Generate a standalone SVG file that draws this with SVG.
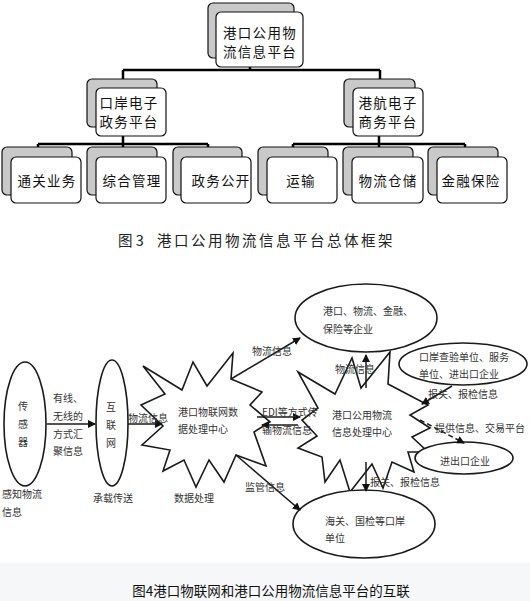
<svg xmlns="http://www.w3.org/2000/svg" width="530" height="601" viewBox="0 0 530 601">
<defs>
<style>
.sh{fill:#c9c9c9;stroke:#111;stroke-width:1.2}
.fr{fill:#fff;stroke:#111;stroke-width:1.2}
.t14{font-family:"Noto Sans CJK SC","Noto Sans",sans-serif;font-size:13.5px;fill:#111;letter-spacing:1.3px;text-anchor:middle;dominant-baseline:central}
.tree{fill:none;stroke:#000;stroke-width:2.5}
.t10{font-family:"Noto Sans CJK SC","Noto Sans",sans-serif;font-size:10px;fill:#333;dominant-baseline:central}
.tc{text-anchor:middle}
.ln{fill:none;stroke:#1a1a1a;stroke-width:1.5}
.shape{fill:#fff;stroke:#1a1a1a;stroke-width:1.6}
</style>
<marker id="ah" markerWidth="8" markerHeight="8" refX="7" refY="4" orient="auto" markerUnits="userSpaceOnUse">
<path d="M0,0 L8,4 L0,8 Z" fill="#111"/>
</marker>
</defs>
<rect x="0" y="0" width="530" height="601" fill="#fff"/>
<rect x="0" y="563" width="530" height="38" fill="#f6f7f9"/>

<!-- Figure 3 tree -->
<g id="tree-connectors">
<path class="tree" d="M250,67 V70 M123,70 H380 M123,70 V80 M380,70 V80"/>
<path class="tree" d="M123,136 V144 M38,144 H208 M38,144 V148 M123,144 V148 M208,144 V148"/>
<path class="tree" d="M379,136 V144 M293,144 H465 M293,144 V148 M379,144 V148 M465,144 V148"/>
</g>
<g id="root">
<rect class="sh" x="208" y="3" width="86" height="55" rx="5"/>
<rect class="fr" x="216" y="12" width="87" height="55" rx="5"/>
<text class="t14" x="260" y="31.5">港口公用物</text>
<text class="t14" x="260" y="50.5">流信息平台</text>
</g>
<g id="mid-left">
<rect class="sh" x="87" y="79" width="70" height="48" rx="5"/>
<rect class="fr" x="96" y="88" width="70" height="48" rx="5"/>
<text class="t14" x="129" y="102">口岸电子</text>
<text class="t14" x="129" y="121">政务平台</text>
</g>
<g id="mid-right">
<rect class="sh" x="344" y="79" width="71" height="48" rx="5"/>
<rect class="fr" x="353" y="88" width="70" height="48" rx="5"/>
<text class="t14" x="388" y="102">港航电子</text>
<text class="t14" x="388" y="121">商务平台</text>
</g>
<g id="c1">
<rect class="sh" x="2" y="147" width="70" height="48" rx="5"/>
<rect class="fr" x="11" y="157" width="70" height="46" rx="5"/>
<text class="t14" x="47" y="180">通关业务</text>
</g>
<g id="c2">
<rect class="sh" x="87" y="147" width="70" height="48" rx="5"/>
<rect class="fr" x="96" y="157" width="70" height="46" rx="5"/>
<text class="t14" x="132" y="180">综合管理</text>
</g>
<g id="c3">
<rect class="sh" x="173" y="147" width="69" height="48" rx="5"/>
<rect class="fr" x="181" y="157" width="70" height="46" rx="5"/>
<text class="t14" x="221" y="180">政务公开</text>
</g>
<g id="c4">
<rect class="sh" x="258" y="147" width="70" height="48" rx="5"/>
<rect class="fr" x="267" y="157" width="70" height="46" rx="5"/>
<text class="t14" x="301" y="180">运输</text>
</g>
<g id="c5">
<rect class="sh" x="343" y="147" width="70" height="48" rx="5"/>
<rect class="fr" x="352" y="157" width="71" height="46" rx="5"/>
<text class="t14" x="388" y="180">物流仓储</text>
</g>
<g id="c6">
<rect class="sh" x="428" y="147" width="70" height="48" rx="5"/>
<rect class="fr" x="437" y="157" width="70" height="46" rx="5"/>
<text class="t14" x="471" y="180">金融保险</text>
</g>
<g id="caption3">
<text x="118" y="239" font-family="Noto Sans CJK SC,sans-serif" font-size="14.5" fill="#222" dominant-baseline="central">图 3</text>
<text x="157" y="239" font-family="Noto Sans CJK SC,sans-serif" font-size="14.5" fill="#222" letter-spacing="2.5" dominant-baseline="central">港口公用物流信息平台总体框架</text>
</g>

<!-- Figure 4 -->
<g id="sensor">
<ellipse class="shape" cx="25" cy="424" rx="21" ry="62"/>
<text class="t10 tc" x="23" y="405">传</text>
<text class="t10 tc" x="23" y="423">感</text>
<text class="t10 tc" x="23" y="441">器</text>
</g>
<g id="internet">
<ellipse class="shape" cx="112" cy="423" rx="16" ry="63"/>
<text class="t10 tc" x="111" y="406">互</text>
<text class="t10 tc" x="111" y="424">联</text>
<text class="t10 tc" x="111" y="442">网</text>
</g>
<g id="iot-center">
<polygon class="shape" points="143,366 182,390 193,362 207,386 233,353 231,379 262,392 250,405 270,422 254,432 266,466 236,455 224,482 209,460 196,487 184,460 163,471 170,450 142,445 163,426 141,405 165,394"/>
<text class="t10" x="178" y="411">港口物联网数</text>
<text class="t10" x="178" y="428">据处理中心</text>
</g>
<g id="platform-center">
<polygon class="shape" points="298,372 335,394 352,358 361,388 390,352 388,384 428,405 410,415 430,428 412,437 428,452 408,452 414,472 392,462 383,488 372,464 350,492 340,460 325,482 322,457 298,448 317,436 302,420 318,408"/>
<text class="t10" x="332" y="414">港口公用物流</text>
<text class="t10" x="332" y="431">信息处理中心</text>
</g>
<g id="enterprises">
<ellipse class="shape" cx="366" cy="318" rx="71" ry="34"/>
<text class="t10" x="323" y="310">港口、物流、金融、</text>
<text class="t10" x="323" y="328">保险等企业</text>
</g>
<g id="inspection">
<ellipse class="shape" cx="463" cy="364" rx="64" ry="21"/>
<text class="t10" x="419" y="356">口岸查验单位、服务</text>
<text class="t10" x="419" y="373">单位、进出口企业</text>
</g>
<g id="import-export">
<ellipse class="shape" cx="464" cy="458" rx="49" ry="16"/>
<text class="t10" x="440" y="460">进出口企业</text>
</g>
<g id="customs">
<ellipse class="shape" cx="364" cy="524" rx="71" ry="34"/>
<text class="t10" x="325" y="520">海关、国检等口岸</text>
<text class="t10" x="325" y="537">单位</text>
</g>

<g id="connectors">
<line class="ln" x1="47" y1="424" x2="95" y2="424" marker-end="url(#ah)"/>
<line class="ln" x1="128" y1="424" x2="162" y2="424" marker-end="url(#ah)"/>
<line class="ln" x1="231" y1="379" x2="300" y2="338" marker-end="url(#ah)"/>
<line class="ln" x1="236" y1="455" x2="300" y2="510" marker-end="url(#ah)"/>
<line class="ln" x1="257" y1="417" x2="300" y2="417" marker-end="url(#ah)"/>
<line class="ln" x1="298" y1="425" x2="262" y2="425" marker-end="url(#ah)"/>
<line class="ln" x1="366" y1="388" x2="366" y2="355" marker-end="url(#ah)"/>
<line class="ln" x1="452" y1="386" x2="422" y2="404" marker-end="url(#ah)"/>
<line class="ln" x1="420" y1="420" x2="464" y2="443" stroke-dasharray="5,3" marker-end="url(#ah)"/>
<line class="ln" x1="366" y1="462" x2="366" y2="491" marker-end="url(#ah)"/>
</g>

<g id="labels">
<text class="t10" x="53" y="397">有线、</text>
<text class="t10" x="53" y="415">无线的</text>
<text class="t10" x="53" y="433">方式汇</text>
<text class="t10" x="53" y="450">聚信息</text>
<text class="t10" x="128" y="417">物流信息</text>
<text class="t10" x="2" y="493">感知物流</text>
<text class="t10" x="2" y="511">信息</text>
<text class="t10" x="93" y="497">承载传送</text>
<text class="t10" x="174" y="497">数据处理</text>
<text class="t10" x="252" y="350">物流信息</text>
<text class="t10" x="262" y="411">EDI等方式传</text>
<text class="t10" x="262" y="429">输物流信息</text>
<text class="t10" x="245" y="486">监管信息</text>
<text class="t10" x="335" y="368">物流信息</text>
<text class="t10" x="428" y="393">报关、报检信息</text>
<text class="t10" x="435" y="427">提供信息、交易平台</text>
<text class="t10" x="370" y="481">报关、报检信息</text>
</g>
<g id="caption4">
<text x="271" y="590" font-family="Noto Sans CJK SC,sans-serif" font-size="13.5" fill="#111" text-anchor="middle" dominant-baseline="central">图4港口物联网和港口公用物流信息平台的互联</text>
</g>
</svg>
